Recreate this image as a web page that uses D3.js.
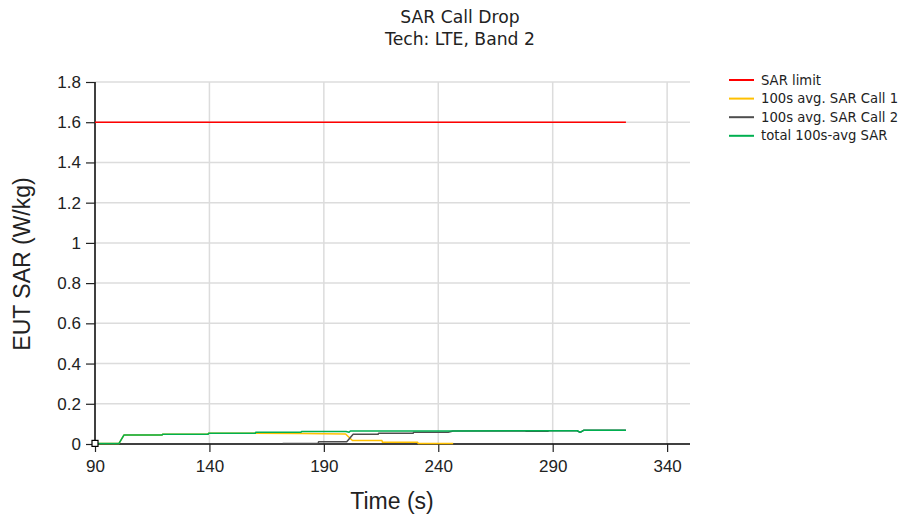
<!DOCTYPE html>
<html>
<head>
<meta charset="utf-8">
<script src="https://cdn.jsdelivr.net/npm/d3@7/dist/d3.min.js"></script>
<style>
  html, body { margin: 0; padding: 0; background: #fff; }
  svg { display: block; }
</style>
</head>
<body>
<svg id="chart" width="901" height="516"></svg>
<script>
// Time axis ticks and SAR axis ticks
const xTicks = [90, 140, 190, 240, 290, 340];
const yTicks = [0, 0.2, 0.4, 0.6, 0.8, 1, 1.2, 1.4, 1.6, 1.8];

// SAR limit
const limitTime = [90, 322];
const limitSar = [1.6, 1.6];

// 100s average SAR, call 1
const call1Time = [90, 100.5, 102.7, 119.3, 119.5, 139.4, 139.6, 160, 180, 199.5, 202.5, 215.4, 215.6, 231, 231.2, 246.5];
const call1Sar  = [0.003, 0.003, 0.045, 0.045, 0.048, 0.048, 0.053, 0.053, 0.052, 0.05, 0.017, 0.017, 0.009, 0.009, 0.003, 0.003];

// 100s average SAR, call 2
const call2Time = [172, 187.5, 187.7, 200, 202.8, 213.7, 213.9, 229, 229.2, 244.3, 246.5, 278, 278.2, 288, 288.2, 300.7, 302, 303.5, 322];
const call2Sar  = [0.003, 0.003, 0.011, 0.011, 0.048, 0.048, 0.053, 0.053, 0.058, 0.058, 0.065, 0.065, 0.0635, 0.0635, 0.066, 0.066, 0.058, 0.068, 0.068];

// total 100s average SAR
const totalTime = [90, 100.5, 102.7, 119.3, 119.5, 139.4, 139.6, 160, 160.2, 180, 180.2, 199.7, 201, 201.6, 246.5, 300.7, 302, 303.5, 322];
const totalSar  = [0.003, 0.003, 0.045, 0.045, 0.048, 0.048, 0.053, 0.053, 0.058, 0.058, 0.062, 0.062, 0.058, 0.065, 0.065, 0.066, 0.058, 0.068, 0.068];

const seriesNames = ["SAR limit", "100s avg. SAR Call 1", "100s avg. SAR Call 2", "total 100s-avg SAR"];
const seriesColors = ["#ff0000", "#ffc000", "#4d4d4d", "#00b050"];

const svg = d3.select("#chart");
const plot = { left: 95, right: 690, top: 82, bottom: 444 };

const x = d3.scaleLinear().domain([90, 350]).range([plot.left, plot.right]);
const y = d3.scaleLinear().domain([0, 1.8]).range([plot.bottom, plot.top]);

// Title
const title = svg.append("text")
  .attr("x", 460).attr("text-anchor", "middle")
  .attr("font-family", "DejaVu Sans, Verdana, sans-serif")
  .attr("font-size", 17.2).attr("fill", "#222");
title.append("tspan").attr("x", 460).attr("y", 23).text("SAR Call Drop");
title.append("tspan").attr("x", 460).attr("y", 45).text("Tech: LTE, Band 2");

// Grid
const grid = svg.append("g").attr("stroke", "#dcdcdc").attr("stroke-width", 1.5);
grid.selectAll("line.h").data(yTicks.filter(d => d > 0)).join("line")
  .attr("x1", plot.left).attr("x2", plot.right)
  .attr("y1", d => y(d)).attr("y2", d => y(d));
grid.selectAll("line.v").data(xTicks.filter(d => d > 90)).join("line")
  .attr("x1", d => x(d)).attr("x2", d => x(d))
  .attr("y1", plot.top).attr("y2", plot.bottom);

// Axes
const xAxis = svg.append("g")
  .attr("transform", `translate(0,${plot.bottom})`)
  .call(d3.axisBottom(x).tickValues(xTicks).tickSize(8).tickPadding(5).tickFormat(d3.format("d")));
xAxis.select(".domain").attr("stroke", "#000").attr("stroke-width", 1.5)
  .attr("d", `M${plot.left},0H${plot.right}`);

const yAxis = svg.append("g")
  .attr("transform", `translate(${plot.left},0)`)
  .call(d3.axisLeft(y).tickValues(yTicks).tickSize(9).tickPadding(5).tickFormat(d => d3.format("")(+d.toFixed(1))));
yAxis.select(".domain").attr("stroke", "#000").attr("stroke-width", 1.5)
  .attr("d", `M0,${plot.bottom}V${plot.top}`);

[xAxis, yAxis].forEach(a => {
  a.selectAll(".tick line").attr("stroke", "#222").attr("stroke-width", 1.2);
  a.selectAll(".tick text")
    .attr("font-family", "Liberation Sans, Arial, sans-serif")
    .attr("font-size", 17).attr("fill", "#222");
});
xAxis.selectAll(".tick text").attr("dy", "0.9em");

// Axis titles
svg.append("text")
  .attr("x", 392).attr("y", 509).attr("text-anchor", "middle")
  .attr("font-family", "Liberation Sans, Arial, sans-serif")
  .attr("font-size", 23).attr("fill", "#222")
  .text("Time (s)");
svg.append("text")
  .attr("transform", "translate(30,264) rotate(-90)")
  .attr("text-anchor", "middle")
  .attr("font-family", "Liberation Sans, Arial, sans-serif")
  .attr("font-size", 23).attr("fill", "#222")
  .text("EUT SAR (W/kg)");

// Series lines
const line = d3.line().x(d => x(d[0])).y(d => y(d[1]));
const series = [
  d3.zip(limitTime, limitSar),
  d3.zip(call1Time, call1Sar),
  d3.zip(call2Time, call2Sar),
  d3.zip(totalTime, totalSar)
];
svg.append("g").selectAll("path").data(series).join("path")
  .attr("d", line)
  .attr("fill", "none")
  .attr("stroke", (d, i) => seriesColors[i])
  .attr("stroke-width", 1.5)
  .attr("stroke-linejoin", "round");

// Marker on the first total point
svg.append("rect")
  .attr("x", x(totalTime[0]) - 3).attr("y", y(totalSar[0]) - 3)
  .attr("width", 6).attr("height", 6)
  .attr("fill", "#fff").attr("stroke", "#000").attr("stroke-width", 1.2);

// Legend
const legend = svg.append("g").attr("transform", "translate(729,80)");
const item = legend.selectAll("g").data(seriesNames).join("g")
  .attr("transform", (d, i) => `translate(0,${i * 18.6})`);
item.append("line")
  .attr("x1", 0).attr("x2", 25).attr("y1", 0).attr("y2", 0)
  .attr("stroke", (d, i) => seriesColors[i]).attr("stroke-width", 2);
item.append("text")
  .attr("x", 32).attr("y", 0).attr("dy", "0.35em")
  .attr("font-family", "DejaVu Sans, Verdana, sans-serif")
  .attr("font-size", 13.2).attr("fill", "#222")
  .text(d => d);
</script>
</body>
</html>
